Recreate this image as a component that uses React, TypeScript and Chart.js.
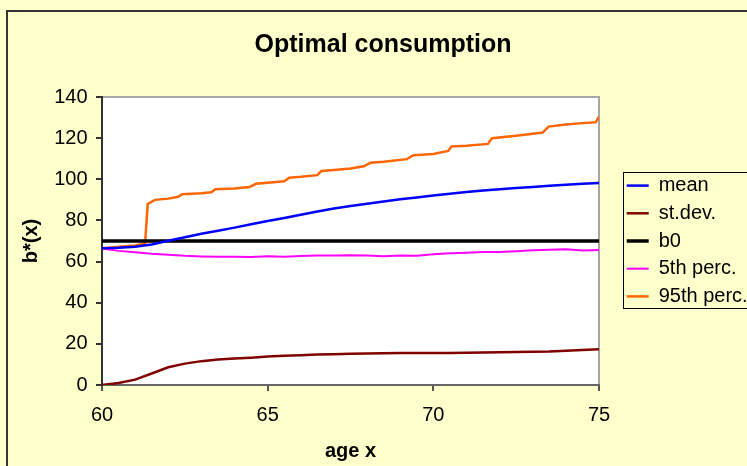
import React, { useEffect, useRef } from "react";
import { Chart, registerables } from "chart.js";

Chart.register(...registerables);

// ---- data ----
const ages = [
  60, 60.5, 61, 61.5, 62, 62.5, 63, 63.5, 64, 64.5, 65, 65.5, 66, 66.5, 67, 67.5,
  68, 68.5, 69, 69.5, 70, 70.5, 71, 71.5, 72, 72.5, 73, 73.5, 74, 74.5, 75,
];
const meanValues = [
  66.5, 66.7, 67.2, 68.3, 70.1, 71.8, 73.5, 75.0, 76.5, 78.1, 79.7, 81.2, 82.8, 84.3, 85.8, 87.0,
  88.1, 89.2, 90.3, 91.2, 92.1, 93.0, 93.8, 94.5, 95.2, 95.8, 96.3, 96.8, 97.3, 97.8, 98.2,
];
const stdevValues = [
  0, 1.0, 2.6, 5.6, 8.6, 10.4, 11.6, 12.4, 12.9, 13.3, 13.8, 14.2, 14.5, 14.8, 15.0, 15.2,
  15.3, 15.4, 15.5, 15.5, 15.6, 15.6, 15.7, 15.8, 15.9, 16.0, 16.2, 16.3, 16.6, 17.0, 17.4,
];
const b0Values = [
  70, 70, 70, 70, 70, 70, 70, 70, 70, 70, 70, 70, 70, 70, 70, 70,
  70, 70, 70, 70, 70, 70, 70, 70, 70, 70, 70, 70, 70, 70, 70,
];
const p5Values = [
  66.3, 65.2, 64.5, 63.8, 63.3, 62.8, 62.5, 62.3, 62.4, 62.2, 62.6, 62.4, 62.7, 62.9, 62.9, 63.1,
  62.9, 62.6, 63.0, 62.8, 63.5, 64.0, 64.3, 64.6, 64.6, 65.0, 65.5, 65.8, 66.0, 65.4, 65.6,
];
const p95Ages = [
  60, 60.5, 61, 61.3, 61.38, 61.6, 62.0, 62.3, 62.42, 63.0, 63.3, 63.42, 64.0, 64.45, 64.65,
  65.0, 65.5, 65.65, 66.0, 66.5, 66.62, 67.0, 67.5, 67.9, 68.1, 68.5, 69.2, 69.4, 70.0, 70.45,
  70.55, 71.0, 71.65, 71.77, 72.5, 73.3, 73.48, 74.0, 74.5, 74.9, 75,
];
const p95Values = [
  66.3, 67.2, 67.8, 68.8, 88.0, 90.0, 90.6, 91.5, 92.7, 93.2, 93.7, 95.2, 95.5, 96.2, 97.8,
  98.3, 99.0, 100.8, 101.2, 102.0, 104.0, 104.5, 105.2, 106.3, 108.0, 108.5, 109.8, 111.7, 112.3, 113.8,
  115.9, 116.3, 117.2, 120.0, 121.2, 122.7, 125.6, 126.6, 127.3, 127.7, 130.5,
];
const seriesLabels = ["mean", "st.dev.", "b0", "5th perc.", "95th perc."];
const xTicks = [60, 65, 70, 75];
const yTicks = [0, 20, 40, 60, 80, 100, 120, 140];

const FONT = "'Liberation Sans', Arial, Helvetica, sans-serif";

const pts = (xs: number[], ys: number[]) => xs.map((x, i) => ({ x, y: ys[i] }));

const framePlugin = {
  id: "excelFrame",
  beforeDraw(chart: any) {
    const { ctx, width, height, chartArea } = chart;
    ctx.save();
    ctx.fillStyle = "#FFFFCC";
    ctx.fillRect(0, 0, width, height);
    ctx.strokeStyle = "#333333";
    ctx.lineWidth = 2;
    ctx.strokeRect(7, 11, width + 40, height + 40);
    ctx.fillStyle = "#FFFFFF";
    ctx.fillRect(chartArea.left, chartArea.top, chartArea.right - chartArea.left, chartArea.bottom - chartArea.top);
    ctx.strokeStyle = "#A6A6A6";
    ctx.lineWidth = 2;
    ctx.beginPath();
    ctx.moveTo(chartArea.left, chartArea.top);
    ctx.lineTo(chartArea.right, chartArea.top);
    ctx.lineTo(chartArea.right, chartArea.bottom);
    ctx.stroke();
    ctx.restore();
  },
  afterDraw(chart: any) {
    const lg = chart.legend;
    if (!lg || !lg.legendHitBoxes || !lg.legendHitBoxes.length) return;
    const hb = lg.legendHitBoxes;
    const first = hb[0];
    const last = hb[hb.length - 1];
    const { ctx, width } = chart;
    ctx.save();
    ctx.strokeStyle = "#000000";
    ctx.lineWidth = 1;
    const left = Math.round(first.left - 4) + 0.5;
    const top = Math.round(first.top + 10 - 14) + 0.5;
    const bottom = Math.round(last.top + 10 + 12) + 0.5;
    ctx.strokeRect(left, top, width + 20 - left, bottom - top);
    ctx.restore();
  },
};

export default function App() {
  const ref = useRef<HTMLCanvasElement>(null);

  useEffect(() => {
    const canvas = ref.current;
    if (!canvas) return;
    const tickFont = { family: FONT, size: 20 };
    const titleFont = { family: FONT, size: 20, weight: "bold" as const };
    const chart = new Chart(canvas, {
      type: "line",
      data: {
        datasets: [
          { label: seriesLabels[0], data: pts(ages, meanValues), borderColor: "#0000FF", backgroundColor: "#0000FF", borderWidth: 2.5 },
          { label: seriesLabels[1], data: pts(ages, stdevValues), borderColor: "#800000", backgroundColor: "#800000", borderWidth: 2.5 },
          { label: seriesLabels[2], data: pts(ages, b0Values), borderColor: "#000000", backgroundColor: "#000000", borderWidth: 3.5 },
          { label: seriesLabels[3], data: pts(ages, p5Values), borderColor: "#FF00FF", backgroundColor: "#FF00FF", borderWidth: 2 },
          { label: seriesLabels[4], data: pts(p95Ages, p95Values), borderColor: "#FF6600", backgroundColor: "#FF6600", borderWidth: 2.5 },
        ],
      },
      options: {
        responsive: false,
        animation: false,
        devicePixelRatio: 1,
        layout: { padding: { left: 19, right: 0, top: 11, bottom: 0 } },
        elements: { point: { radius: 0, hoverRadius: 0 }, line: { tension: 0 } },
        plugins: {
          tooltip: { enabled: false },
          title: {
            display: true,
            text: "Optimal consumption",
            color: "#000000",
            font: { family: FONT, size: 25, weight: "bold" },
            padding: { top: 19, bottom: 37 },
          },
          legend: {
            display: true,
            position: "right",
            align: "center",
            fullSize: false,
            maxWidth: 128,
            labels: {
              usePointStyle: true,
              pointStyle: "line",
              pointStyleWidth: 22,
              padding: 7.7,
              color: "#000000",
              font: tickFont,
            },
          },
        },
        scales: {
          x: {
            type: "linear",
            min: 60,
            max: 75,
            afterBuildTicks: (s: any) => {
              s.ticks = xTicks.map((v) => ({ value: v }));
            },
            ticks: { color: "#000000", font: tickFont, padding: 12, maxRotation: 0 },
            grid: { drawOnChartArea: false, drawTicks: true, tickLength: 6, color: "#555555", lineWidth: 2 },
            border: { display: true, color: "#666666", width: 2 },
            title: { display: true, text: "age x", color: "#000000", font: titleFont, padding: 3 },
            afterFit: (s: any) => {
              s.height = 81;
            },
          },
          y: {
            type: "linear",
            min: 0,
            max: 140,
            afterBuildTicks: (s: any) => {
              s.ticks = yTicks.map((v) => ({ value: v }));
            },
            ticks: { color: "#000000", font: tickFont, padding: 8.5 },
            grid: { drawOnChartArea: false, drawTicks: true, tickLength: 6, color: "#333333", lineWidth: 2 },
            border: { display: true, color: "#333333", width: 2 },
            title: { display: true, text: "b*(x)", color: "#000000", font: titleFont, padding: 0 },
            afterFit: (s: any) => {
              s.width = 83;
            },
          },
          spacer: {
            type: "linear",
            position: "right",
            display: true,
            grid: { display: false },
            ticks: { display: false },
            border: { display: false },
            afterFit: (s: any) => {
              s.width = 20;
            },
          },
        },
      },
      plugins: [framePlugin],
    } as any);
    return () => chart.destroy();
  }, []);

  return (
    <div style={{ position: "absolute", left: 0, top: 0, width: 747, height: 466 }}>
      <canvas ref={ref} width={747} height={466} style={{ display: "block", width: 747, height: 466 }} />
    </div>
  );
}
